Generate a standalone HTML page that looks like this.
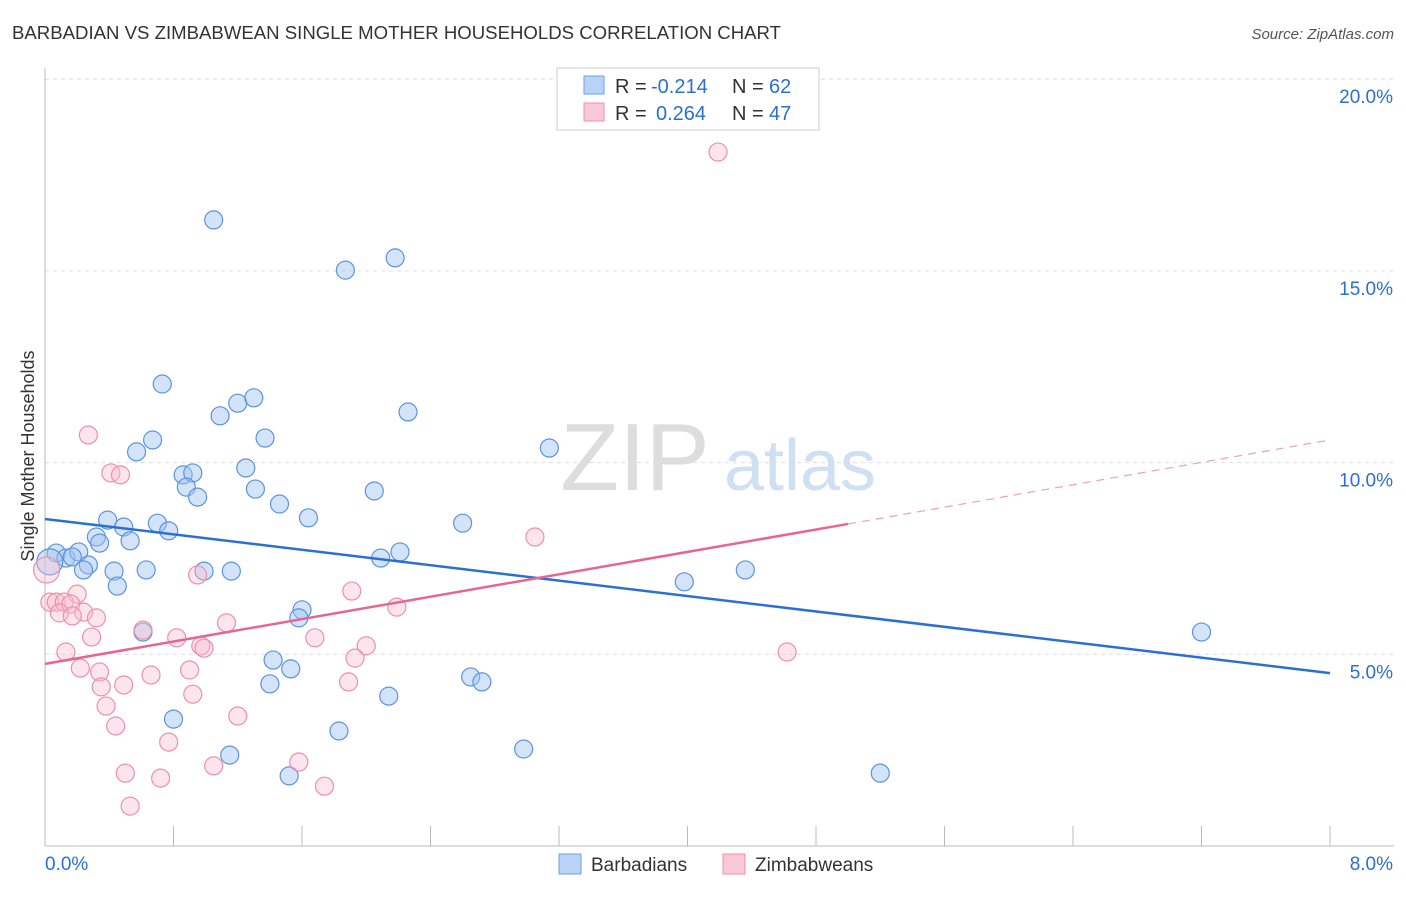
<!DOCTYPE html>
<html><head><meta charset="utf-8"><style>
body{margin:0;background:#fff;font-family:"Liberation Sans",sans-serif}
svg text{font-family:"Liberation Sans",sans-serif}
</style></head><body>
<svg id="chart" width="1406" height="892" viewBox="0 0 1406 892">
<text x="12" y="39" font-size="18.6" fill="#333">BARBADIAN VS ZIMBABWEAN SINGLE MOTHER HOUSEHOLDS CORRELATION CHART</text>
<text x="1394" y="39" font-size="15" fill="#555" text-anchor="end" font-style="italic">Source: ZipAtlas.com</text>
<text transform="translate(34,456) rotate(-90)" font-size="18" fill="#333" text-anchor="middle">Single Mother Households</text>
<g><text x="635" y="490" font-size="96" fill="#ddd" font-family="Liberation Serif" text-anchor="middle">ZIP</text><text x="800" y="490" font-size="72" fill="#cfe0f5" text-anchor="middle">atlas</text></g>
<g id="grid"></g><g id="axes"></g><g id="marks"></g>
<g>
<rect x="557" y="68" width="262" height="62" fill="#fff" stroke="#ccc"/>
<rect x="584" y="76" width="20" height="18" fill="#b8d3f5" stroke="#6aa0e8"/>
<rect x="584" y="103" width="20" height="18" fill="#f9c8d6" stroke="#ee8fac"/>
<text x="615" y="93" font-size="20" fill="#333">R =</text>
<text x="651" y="93" font-size="20" fill="#2a6fd6">-0.214</text>
<text x="732" y="93" font-size="20" fill="#333">N =</text>
<text x="769" y="93" font-size="20" fill="#2a6fd6">62</text>
<text x="615" y="120" font-size="20" fill="#333">R =</text>
<text x="656" y="120" font-size="20" fill="#2a6fd6">0.264</text>
<text x="732" y="120" font-size="20" fill="#333">N =</text>
<text x="769" y="120" font-size="20" fill="#2a6fd6">47</text>
</g>
<g>
<rect x="559" y="854" width="22" height="20" fill="#b8d3f5" stroke="#6aa0e8"/>
<text x="591" y="871" font-size="19" fill="#333">Barbadians</text>
<rect x="723" y="854" width="22" height="20" fill="#f9c8d6" stroke="#ee8fac"/>
<text x="755" y="871" font-size="19" fill="#333">Zimbabweans</text>
</g>
</svg>
<script>
const blueX=[1.05,1.87,2.18,0.73,1.09,1.20,1.30,2.26,0.67,1.37,0.57,3.14,0.86,0.92,1.25,0.88,0.95,1.31,2.05,1.46,0.39,0.70,1.64,2.60,0.49,0.77,0.32,0.34,0.53,0.07,0.13,0.21,0.17,0.27,0.24,0.43,0.63,0.99,1.16,2.09,2.21,0.45,3.98,4.36,1.60,1.58,0.61,7.20,1.42,1.53,1.40,2.65,2.72,2.14,0.80,1.83,1.15,2.98,1.52,5.20,0.03];
const blueY=[16.33,15.02,15.34,12.05,11.22,11.55,11.69,11.32,10.59,10.64,10.28,10.38,9.68,9.73,9.86,9.36,9.10,9.31,9.26,8.92,8.50,8.42,8.56,8.42,8.32,8.22,8.06,7.90,7.96,7.64,7.51,7.67,7.54,7.33,7.20,7.17,7.20,7.17,7.17,7.51,7.67,6.78,6.89,7.20,6.16,5.95,5.58,5.58,4.85,4.62,4.23,4.41,4.28,3.91,3.31,3.00,2.37,2.53,1.83,1.90,7.41];
const pinkX=[4.19,0.27,0.41,0.47,3.05,0.95,1.91,0.20,0.03,0.07,0.12,0.16,0.24,0.09,0.17,0.32,2.19,1.13,0.61,0.29,0.82,1.68,0.97,0.99,2.00,4.62,0.13,1.93,0.22,0.34,0.66,0.90,0.49,0.35,1.89,0.92,0.38,1.20,0.44,0.77,1.58,1.05,0.50,0.72,1.74,0.53,0.01];
const pinkY=[18.10,10.72,9.73,9.68,8.06,7.07,6.65,6.57,6.36,6.36,6.36,6.31,6.10,6.08,6.00,5.95,6.23,5.82,5.63,5.45,5.43,5.43,5.22,5.16,5.22,5.06,5.06,4.90,4.64,4.54,4.46,4.59,4.20,4.15,4.28,3.96,3.65,3.39,3.13,2.71,2.19,2.09,1.90,1.77,1.56,1.04,7.2];
const yTicks=[5,10,15,20];
const yTickLabels=["5.0%","10.0%","15.0%","20.0%"];
const blueTrend=[8.53,4.51];
const pinkTrend=[4.75,10.59];
const pinkSolidEnd=5.0;
const NS="http://www.w3.org/2000/svg";
const sx=v=>45+v/8*1285, sy=v=>846-v/5*191.7;
function mk(tag,attrs,parent){const e=document.createElementNS(NS,tag);for(const k in attrs)e.setAttribute(k,attrs[k]);document.getElementById(parent).appendChild(e);return e;}
yTicks.forEach((t,i)=>{
 const g=mk('line',{x1:45,x2:1394,y1:sy(t),y2:sy(t),stroke:'#ddd','stroke-dasharray':'4,4'},'grid');
 
 
 const tx=mk('text',{x:1393,y:sy(t)+24,'font-size':19,fill:'#2a6fd6','text-anchor':'end'},'axes');
 tx.textContent=yTickLabels[i];
 
 
});
let ax=mk('line',{x1:45,x2:45,y1:68,y2:846,stroke:'#bbb'},'axes');


ax=mk('line',{x1:45,x2:1394,y1:846,y2:846,stroke:'#bbb'},'axes');


for(let i=0;i<=10;i++){const t=mk('line',{x1:sx(i*0.8),x2:sx(i*0.8),y1:826,y2:846,stroke:'#bbb'},'axes');
 
 }
let xl=mk('text',{x:45,y:870,'font-size':19,fill:'#2a6fd6'},'axes');xl.textContent='0.0%';


xl=mk('text',{x:1393,y:870,'font-size':19,fill:'#2a6fd6','text-anchor':'end'},'axes');xl.textContent='8.0%';


blueX.forEach((x,i)=>{const c=mk('circle',{cx:sx(x),cy:sy(blueY[i]),r:i==blueX.length-1?13:9,fill:'rgba(160,196,240,0.45)',stroke:'#5b93e0','stroke-width':1.2},'marks');
 
 });
pinkX.forEach((x,i)=>{const c=mk('circle',{cx:sx(x),cy:sy(pinkY[i]),r:i==pinkX.length-1?13:9,fill:'rgba(248,190,208,0.4)',stroke:'#ee8fac','stroke-width':1.2},'marks');
 
 });
let l=mk('line',{x1:sx(0),y1:sy(blueTrend[0]),x2:sx(8),y2:sy(blueTrend[1]),stroke:'#2a6fd6','stroke-width':2.5},'marks');


const pAt=x=>pinkTrend[0]+(pinkTrend[1]-pinkTrend[0])*x/8;
l=mk('line',{x1:sx(0),y1:sy(pinkTrend[0]),x2:sx(pinkSolidEnd),y2:sy(pAt(pinkSolidEnd)),stroke:'#e8658f','stroke-width':2.5},'marks');


l=mk('line',{x1:sx(pinkSolidEnd),y1:sy(pAt(pinkSolidEnd)),x2:sx(8),y2:sy(pinkTrend[1]),stroke:'#eea0b8','stroke-width':1.2,'stroke-dasharray':'8,6'},'marks');


</script>
</body></html>
